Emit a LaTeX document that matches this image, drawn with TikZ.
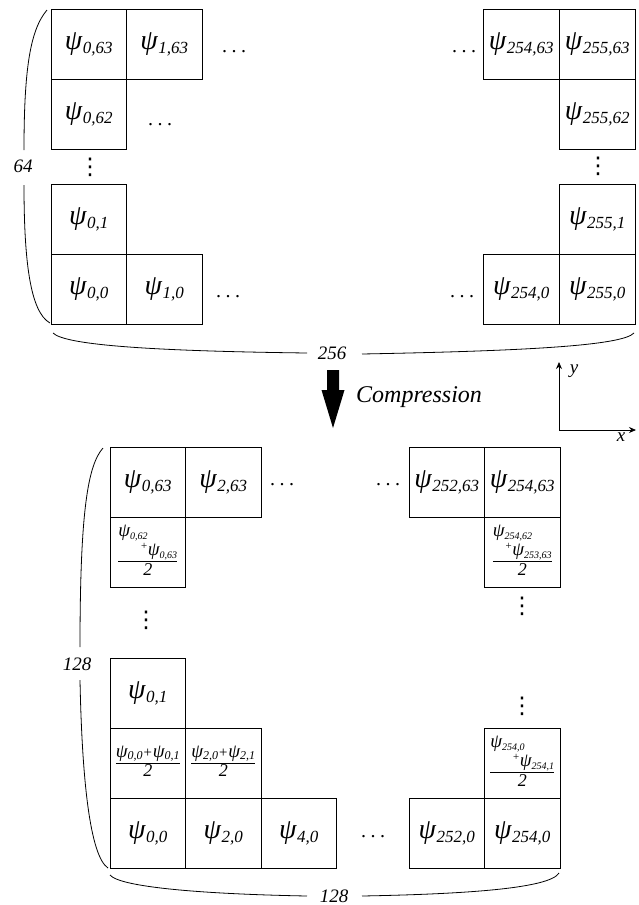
\documentclass[tikz,border=0pt]{standalone}
\usepackage{fontspec}
\setmainfont{Liberation Serif}
\newfontfamily\dejavu{DejaVu Sans}
\usetikzlibrary{arrows.meta}
\newcommand{\PS}[1]{{\fontsize{28}{28}\selectfont ψ}\kern0.5pt\raisebox{-4pt}{\fontsize{17}{17}\selectfont #1}}
\newcommand{\ps}[1]{{\fontsize{19}{19}\selectfont ψ}\raisebox{-2.5pt}{\fontsize{12}{12}\selectfont #1}}
\newcommand{\pss}[1]{{\fontsize{19}{19}\selectfont ψ}\raisebox{-3pt}{\fontsize{10}{10}\selectfont #1}}
\newcommand{\hdt}{.\kern4.5pt.\kern4.5pt.}
\newcommand{\vdt}{{\dejavu ⋮}}
\newcommand{\fractwo}[1]{\begin{tabular}{@{}c@{}}#1\\\hline\fontsize{18}{19}\selectfont 2\end{tabular}}
\newcommand{\fracthree}[3]{\begin{tabular}{@{}c@{}}\begin{tabular}{@{}l@{}}#1\\\hspace*{#3}\raisebox{6pt}{\fontsize{11}{11}\selectfont+}#2\end{tabular}\\\hline\fontsize{18}{19}\selectfont 2\end{tabular}}
\tikzset{
  cell/.style={draw, line width=0.9pt, minimum width=75.5pt, minimum height=70pt, inner sep=0pt,
    font=\fontsize{24}{24}\selectfont\itshape},
  fcell/.style={cell, font=\fontsize{16}{19}\selectfont\itshape},
  hdots/.style={anchor=base, inner sep=0pt, font=\fontsize{20}{20}\selectfont},
  vdots/.style={inner sep=0pt, font=\fontsize{23}{23}\selectfont},
  lbl/.style={inner sep=0pt, font=\fontsize{19}{19}\selectfont\itshape},
  brace/.style={line width=0.8pt},
  axis/.style={line width=0.8pt, -{Stealth[length=7pt,width=6pt]}}
}
\begin{document}
\begin{tikzpicture}[x=1pt,y=-1pt]
\useasboundingbox (0,0) rectangle (639,905);
% ---------- top grid ----------
\node[cell] (t063) at (88.75,44) {\PS{0,63}};
\node[cell] (t163) at (164.25,44) {\PS{1,63}};
\node[cell] (t25463) at (521.25,44) {\PS{254,63}};
\node[cell] (t25563) at (597.25,44) {\PS{255,63}};
\node[cell] (t062) at (88.75,114) {\PS{0,62}};
\node[cell] (t25562) at (597.25,114) {\PS{255,62}};
\node[cell] (t01) at (88.75,219.5) {\PS{0,1}};
\node[cell] (t2551) at (597.25,219.5) {\PS{255,1}};
\node[cell] (t00) at (88.75,289.5) {\PS{0,0}};
\node[cell] (t10) at (164.25,289.5) {\PS{1,0}};
\node[cell] (t2540) at (521.25,289.5) {\PS{254,0}};
\node[cell] (t2550) at (597.25,289.5) {\PS{255,0}};
\node[hdots] (th1) at (234,52) {\hdt};
\node[hdots] (th2) at (160,125) {\hdt};
\node[hdots] (th3) at (464,52) {\hdt};
\node[hdots] (th4) at (228,297) {\hdt};
\node[hdots] (th5) at (462,297) {\hdt};
\node[vdots] (tv1) at (90,167) {\vdt};
\node[vdots] (tv2) at (598,166) {\vdt};
% braces of top grid
\node[lbl] (l64) at (23,166) {64};
\node[lbl] (l256) at (332,353) {256};
\draw[brace] (47,10) .. controls (30,30) and (24,70) .. (24,150);
\draw[brace] (24,185) .. controls (24,260) and (30,312) .. (50,323);
\draw[brace] (53,333) .. controls (65,345) and (150,351) .. (307,353);
\draw[brace] (362,354) .. controls (520,351) and (622,346) .. (634,333);
% ---------- compression arrow and axes ----------
\coordinate (ar) at (333,370);
\fill (ar) ++(-6,0) -- ++(12,0) -- ++(0,20) -- ++(5.5,0) -- (333,428) -- (321.5,390) -- (327,390) -- cycle;
\node[font=\fontsize{24}{24}\selectfont\itshape, anchor=west, inner sep=0pt] (comp) at (356,397) {Compression};
\coordinate (O) at (559,430);
\draw[axis] (O) -- (559,362);
\draw[axis] (O) -- (636,430);
\node[lbl] (ly) at (574,371) {y};
\node[lbl] (lx) at (621,437) {x};
% ---------- bottom grid ----------
\node[cell] (b063) at (147.75,482) {\PS{0,63}};
\node[cell] (b263) at (223.25,482) {\PS{2,63}};
\node[cell] (b25263) at (446.75,482) {\PS{252,63}};
\node[cell] (b25463) at (522.25,482) {\PS{254,63}};
\node[fcell] (bf062) at (147.75,552) {\fracthree{\pss{0,62}}{\pss{0,63}}{22pt}};
\node[fcell] (bf25462) at (522.25,552) {\fracthree{\pss{254,62}}{\pss{253,63}}{12pt}};
\node[cell] (b01) at (147.75,693) {\PS{0,1}};
\node[fcell] (bf00) at (147.75,763) {\fractwo{\ps{0,0}{\fontsize{15}{15}\selectfont+}\ps{0,1}}};
\node[fcell] (bf20) at (223.25,763) {\fractwo{\ps{2,0}{\fontsize{15}{15}\selectfont+}\ps{2,1}}};
\node[fcell] (bf2540) at (522.25,763) {\fracthree{\pss{254,0}}{\pss{254,1}}{22pt}};
\node[cell] (b00) at (147.75,833) {\PS{0,0}};
\node[cell] (b20) at (223.25,833) {\PS{2,0}};
\node[cell] (b40) at (298.75,833) {\PS{4,0}};
\node[cell] (b2520) at (446.75,833) {\PS{252,0}};
\node[cell] (b2540) at (522.25,833) {\PS{254,0}};
\node[hdots] (bh1) at (282,485) {\hdt};
\node[hdots] (bh2) at (388,485) {\hdt};
\node[hdots] (bh3) at (373,837) {\hdt};
\node[vdots] (bv1) at (146,620) {\vdt};
\node[vdots] (bv2) at (522,606) {\vdt};
\node[vdots] (bv3) at (522,706) {\vdt};
% braces of bottom grid
\node[lbl] (l128a) at (77,664) {128};
\node[lbl] (l128b) at (334,896) {128};
\draw[brace] (103,448) .. controls (88,465) and (80,510) .. (80,647);
\draw[brace] (80,680) .. controls (82,780) and (90,856) .. (108,868);
\draw[brace] (110,875) .. controls (120,887) and (200,894) .. (307,896);
\draw[brace] (362,896) .. controls (470,894) and (550,888) .. (559,873);
\end{tikzpicture}
\end{document}
